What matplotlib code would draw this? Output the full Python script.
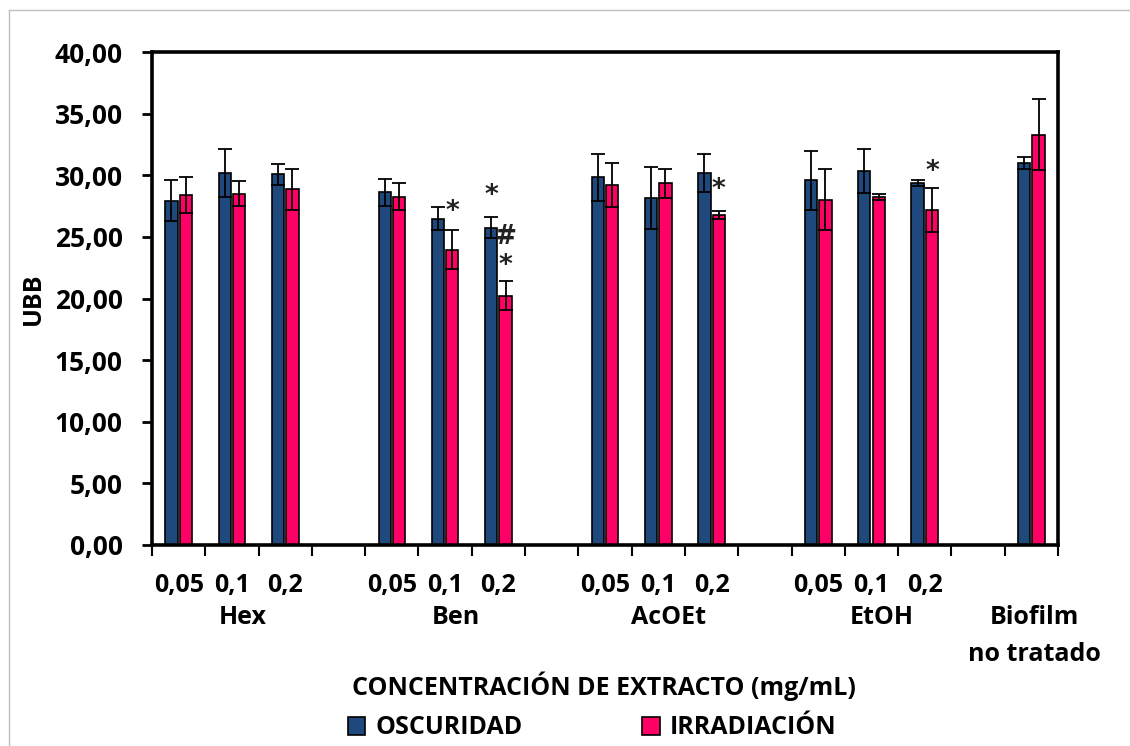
import matplotlib
matplotlib.use("Agg")
import matplotlib.pyplot as plt
import numpy as np
from matplotlib.patches import Patch
from matplotlib.lines import Line2D
from matplotlib.ticker import FuncFormatter

plt.rcParams['font.family'] = ['Open Sans', 'DejaVu Sans']
plt.rcParams['font.weight'] = 'bold'
plt.rcParams['axes.labelweight'] = 'bold'

# datos
grupos = ['Hex', 'Ben', 'AcOEt', 'EtOH']
concentraciones = ['0,05', '0,1', '0,2']
control = ['Biofilm', 'no tratado']

oscuridad = [27.92, 30.19, 30.08, 28.62, 26.49, 25.76, 29.84, 28.16, 30.19,
             29.60, 30.32, 29.35, 31.03]
oscuridad_err = [1.67, 1.92, 0.87, 1.08, 0.95, 0.84, 1.92, 2.51, 1.57,
                 2.38, 1.78, 0.25, 0.49]
irradiacion = [28.40, 28.51, 28.86, 28.27, 23.95, 20.24, 29.22, 29.35, 26.78,
               28.03, 28.24, 27.19, 33.30]
irradiacion_err = [1.44, 1.00, 1.68, 1.08, 1.57, 1.19, 1.81, 1.19, 0.30,
                   2.51, 0.27, 1.81, 2.89]

# marcas de significancia: (indice de barra, serie, simbolo, y)
marcas = [(4, 'irr', '*', 27.0), (5, 'osc', '*', 28.3), (5, 'irr', '#', 25.0),
          (5, 'irr', '*', 22.6), (8, 'irr', '*', 28.8), (11, 'irr', '*', 30.3)]

AZUL = '#1F497D'
ROSA = '#FF0066'

# posiciones: 3 concentraciones + hueco por grupo, luego control
pos = []
for g in range(len(grupos)):
    for c in range(len(concentraciones)):
        pos.append(g * 4 + c)
pos.append(len(grupos) * 4)
pos = np.array(pos)
n_slots = pos[-1] + 1

fig = plt.figure(figsize=(11.3, 7.46), dpi=100)
ax = fig.add_axes([152 / 1130, 1 - 545 / 746, (1058 - 152) / 1130, (545 - 52) / 746])

w = 0.23
off = 0.135
ekw = dict(ecolor='black', elinewidth=1.3, capsize=5, capthick=1.3)
ax.bar(pos - off, oscuridad, w, color=AZUL, edgecolor='black', linewidth=1.2,
       yerr=oscuridad_err, error_kw=ekw, zorder=2)
ax.bar(pos + off, irradiacion, w, color=ROSA, edgecolor='black', linewidth=1.2,
       yerr=irradiacion_err, error_kw=ekw, zorder=2)

for i, serie, sim, y in marcas:
    x = pos[i] - off if serie == 'osc' else pos[i] + off
    ax.text(x, y, sim, ha='center', va='center', fontsize=19,
            fontweight='bold', family=['DejaVu Sans'], color='#222222')

ax.set_xlim(-0.5, n_slots - 0.5)
ax.set_ylim(0, 40)
ax.set_yticks(np.arange(0, 40.1, 5))
ax.yaxis.set_major_formatter(FuncFormatter(lambda v, p: f'{v:.2f}'.replace('.', ',')))
ax.tick_params(axis='y', labelsize=19, length=7, width=2, pad=14)

# marcas del eje x en los limites de categoria, etiquetas en los centros
ax.set_xticks(np.arange(n_slots + 1) - 0.5)
ax.set_xticklabels([])
ax.tick_params(axis='x', which='major', length=8, width=1.5)
ax.set_xticks(pos[:-1], minor=True)
ax.set_xticklabels(concentraciones * len(grupos), minor=True)
ax.tick_params(axis='x', which='minor', length=0, labelsize=18, pad=20)

trans = ax.get_xaxis_transform()
for g, nombre in enumerate(grupos):
    ax.text(g * 4 + 1.2, -0.148, nombre, transform=trans, ha='center', va='center',
            fontsize=18)
ax.text(pos[-1] + 0.05, -0.148, control[0], transform=trans, ha='center',
        va='center', fontsize=18)
ax.text(pos[-1] + 0.05, -0.223, control[1], transform=trans, ha='center',
        va='center', fontsize=18)

for s in ax.spines.values():
    s.set_linewidth(2.6)

ax.set_ylabel('UBB', fontsize=18, labelpad=6)
fig.text(604 / 1130, 1 - 686 / 746, 'CONCENTRACIÓN DE EXTRACTO (mg/mL)',
         ha='center', va='center', fontsize=18)

handles = [Patch(facecolor=AZUL, edgecolor='black', linewidth=1.2),
           Patch(facecolor=ROSA, edgecolor='black', linewidth=1.2)]
fig.legend(handles, ['OSCURIDAD', 'IRRADIACIÓN'], loc='center',
           bbox_to_anchor=(592 / 1130, 1 - 728 / 746), ncol=2, frameon=False,
           fontsize=18, handlelength=0.7, handleheight=0.7, handletextpad=0.4,
           columnspacing=4.8)

# borde gris del recuadro
fig.add_artist(Line2D([8.5 / 1130, 8.5 / 1130], [0, 1 - 10 / 746], color='#BFBFBF',
                      linewidth=1, transform=fig.transFigure))
fig.add_artist(Line2D([8.5 / 1130, 1], [1 - 10 / 746, 1 - 10 / 746], color='#BFBFBF',
                      linewidth=1, transform=fig.transFigure))

fig.savefig('out.png', dpi=100, facecolor='white')
